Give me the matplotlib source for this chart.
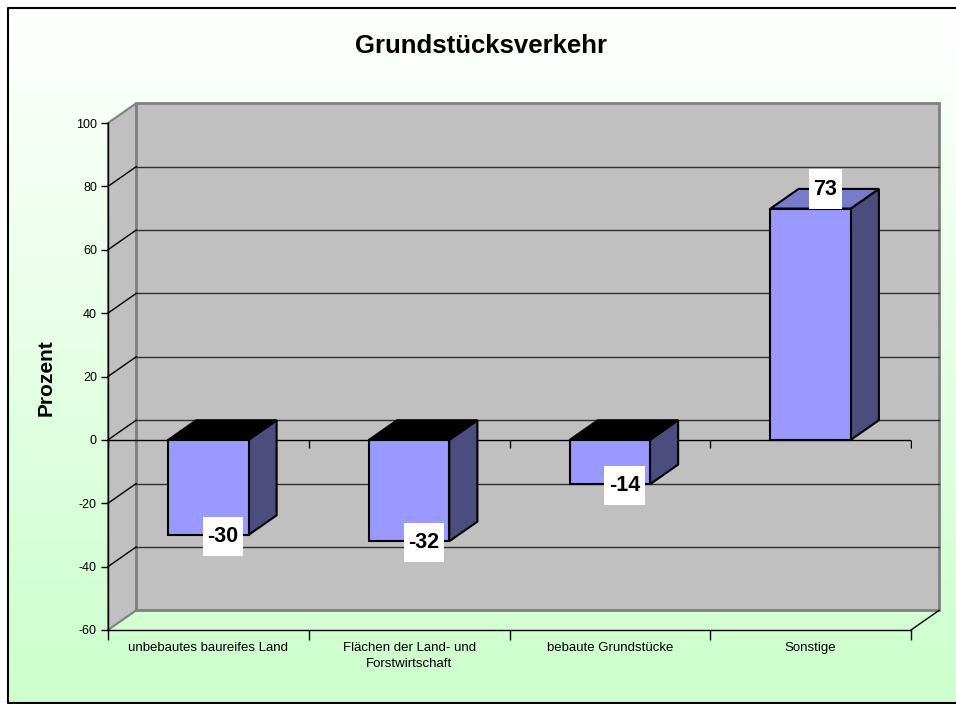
import numpy as np
import matplotlib.pyplot as plt
from matplotlib.patches import Rectangle, Polygon
from matplotlib.path import Path
from matplotlib.colors import LinearSegmentedColormap

plt.rcParams['font.family'] = ['Liberation Sans', 'DejaVu Sans']
plt.rcParams['axes.unicode_minus'] = False

# Daten
kategorien = ['unbebautes baureifes Land',
              'Flächen der Land- und\nForstwirtschaft',
              'bebaute Grundstücke',
              'Sonstige']
werte = [-30, -32, -14, 73]
y_ticks = [-60, -40, -20, 0, 20, 40, 60, 80, 100]
titel = 'Grundstücksverkehr'
y_titel = 'Prozent'

W, H = 956, 704
fig = plt.figure(figsize=(W / 100, H / 100), dpi=100)

# Hintergrund mit Verlauf weiss -> hellgruen und Rahmen
bg = fig.add_axes([0, 0, 1, 1], zorder=0)
verlauf = LinearSegmentedColormap.from_list('verlauf', ['#ffffff', '#ccffcc'])
bg.imshow(np.linspace(0, 1, 256)[:, None], cmap=verlauf, aspect='auto',
          extent=(8, W, 703, 8), origin='upper')
bg.plot([W + 5, 8, 8, W + 5], [8, 8, 703, 703], color='k', lw=1.5)
bg.set_xlim(0, W)
bg.set_ylim(H, 0)
bg.axis('off')

# Diagrammflaeche (Vorderebene)
x0, x1, y_top, y_bot = 108, 911, 123, 630
ax = fig.add_axes([x0 / W, 1 - y_bot / H, (x1 - x0) / W, (y_bot - y_top) / H], zorder=1)
ax.patch.set_visible(False)
ax.set_xlim(-0.5, 3.5)
ax.set_ylim(-60, 100)

# Tiefenversatz in Datenkoordinaten
DX, DY = 0.14, 6.2
lo, hi = y_ticks[0], y_ticks[-1]
xl, xr = -0.5, 3.5

# Rueckwand
ax.add_patch(Rectangle((xl + DX, lo + DY), xr - xl, hi - lo, fc='#c0c0c0',
                       ec='#808080', lw=2, clip_on=False, zorder=1))
# Seitenwand
ax.add_patch(Polygon([(xl, lo), (xl, hi), (xl + DX, hi + DY), (xl + DX, lo + DY)],
                     closed=True, fc='#c0c0c0', ec='#808080', lw=1.5,
                     clip_on=False, zorder=1))
# Gitternetz
for v in y_ticks[1:-1]:
    ax.plot([xl + DX, xr + DX], [v + DY, v + DY], color='#303030', lw=1,
            clip_on=False, zorder=2)
    ax.plot([xl, xl + DX], [v, v + DY], color='k', lw=1, clip_on=False, zorder=2)
# Boden, rechte Kante
ax.plot([xr, xr + DX], [lo, lo + DY], color='k', lw=1, clip_on=False, zorder=2)

# Achsen
for s in ['top', 'right']:
    ax.spines[s].set_visible(False)
for s in ['left', 'bottom']:
    ax.spines[s].set_color('k')
    ax.spines[s].set_linewidth(1)
    ax.spines[s].set_zorder(3)
ax.set_yticks(y_ticks)
ax.tick_params(axis='y', direction='out', length=5, width=1, pad=3, labelsize=9)
grenzen = np.arange(len(kategorien) + 1) - 0.5
ax.set_xticks(grenzen)
ax.set_xticklabels([])
ax.set_xticks(np.arange(len(kategorien)), minor=True)
ax.set_xticklabels(kategorien, minor=True, fontsize=9.5, linespacing=1.45)
ax.tick_params(axis='x', which='major', direction='out', length=7, width=1)
ax.tick_params(axis='x', which='minor', length=0, pad=8.3)

# Nulllinie mit Teilstrichen
ax.axhline(0, color='k', lw=1, zorder=3)
ax.plot(grenzen, np.zeros(len(grenzen)), ls='none', marker=3, ms=5.5, mew=1,
        color='k', zorder=3)

ax.set_ylabel(y_titel, fontsize=15, fontweight='bold')
ax.yaxis.set_label_coords((46 - x0) / (x1 - x0), (y_bot - 378) / (y_bot - y_top))
ax.yaxis.label.set_va('center')

fig.text(481 / W, 1 - 46 / H, titel, ha='center', va='center',
         fontsize=18.5, fontweight='bold')


def label_box(x, y, width, height, mutation_size):
    px, py = 0.21 * mutation_size, 0.42 * mutation_size
    return Path([(x - px, y - py), (x + width + px, y - py),
                 (x + width + px, y + height + py), (x - px, y + height + py),
                 (x - px, y - py)], closed=True)


# Saeulen
bw = 0.2
for i, v in enumerate(werte):
    top = max(v, 0)
    ax.add_patch(Polygon([(i + bw, 0), (i + bw, v), (i + bw + DX, v + DY), (i + bw + DX, DY)],
                         closed=True, fc='#4c4c7f', ec='k', lw=1.5, zorder=4,
                         clip_on=False))
    ax.add_patch(Polygon([(i - bw, top), (i + bw, top), (i + bw + DX, top + DY),
                          (i - bw + DX, top + DY)],
                         closed=True, fc='#7a7acc' if v >= 0 else 'k', ec='k',
                         lw=1.5, zorder=4, clip_on=False))
    ax.add_patch(Rectangle((i - bw, 0), 2 * bw, v, fc='#9999ff', ec='k', lw=1.5,
                           zorder=5, clip_on=False))
    if v >= 0:
        ax.annotate(f'{v}', xy=(i, v), xytext=(10.5, 6.5), textcoords='offset points',
                    ha='center', va='bottom', fontsize=15.5, fontweight='bold',
                    bbox=dict(boxstyle=label_box, fc='white', ec='none'), zorder=6)
    else:
        ax.annotate(f'{v}', xy=(i, v), xytext=(10.5, -1), textcoords='offset points',
                    ha='center', va='center', fontsize=15.5, fontweight='bold',
                    bbox=dict(boxstyle=label_box, fc='white', ec='none'), zorder=6)

fig.savefig('out.png', dpi=100)
